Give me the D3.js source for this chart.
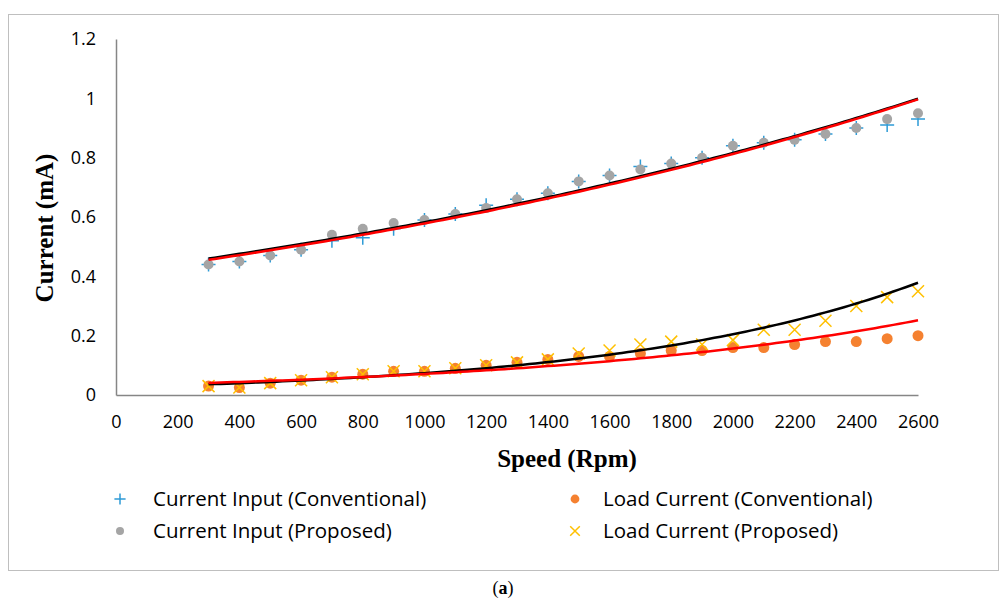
<!DOCTYPE html>
<html>
<head>
<meta charset="utf-8">
<script src="https://cdn.jsdelivr.net/npm/d3@7"></script>
<style>
  body { margin: 0; background: #fff; }
</style>
</head>
<body>
<script>
const speed = [300, 400, 500, 600, 700, 800, 900, 1000, 1100, 1200, 1300, 1400,
               1500, 1600, 1700, 1800, 1900, 2000, 2100, 2200, 2300, 2400, 2500, 2600];
const inputConventional = [0.44, 0.45, 0.47, 0.49, 0.52, 0.53, 0.56, 0.59, 0.61, 0.64, 0.66, 0.68,
                           0.72, 0.74, 0.77, 0.78, 0.80, 0.84, 0.85, 0.86, 0.88, 0.90, 0.91, 0.93];
const inputProposed     = [0.44, 0.45, 0.47, 0.49, 0.54, 0.56, 0.58, 0.59, 0.61, 0.63, 0.66, 0.68,
                           0.72, 0.74, 0.76, 0.78, 0.80, 0.84, 0.85, 0.86, 0.88, 0.90, 0.93, 0.95];
const loadConventional  = [0.03, 0.025, 0.04, 0.05, 0.06, 0.07, 0.08, 0.08, 0.09, 0.10, 0.11, 0.12,
                           0.13, 0.13, 0.14, 0.15, 0.15, 0.16, 0.16, 0.17, 0.18, 0.18, 0.19, 0.20];
const loadProposed      = [0.03, 0.025, 0.04, 0.05, 0.06, 0.07, 0.08, 0.08, 0.09, 0.10, 0.11, 0.12,
                           0.14, 0.15, 0.17, 0.18, 0.17, 0.185, 0.22, 0.22, 0.25, 0.30, 0.33, 0.35];
const xTicks = [0, 200, 400, 600, 800, 1000, 1200, 1400, 1600, 1800, 2000, 2200, 2400, 2600];
const yTicks = [0, 0.2, 0.4, 0.6, 0.8, 1, 1.2];

const W = 1008, H = 601;
const margin = {top: 39, left: 116, right: 90, bottom: 206};
const sans = "'Open Sans', sans-serif";
const serif = "'Liberation Serif', serif";

const svg = d3.select("body").append("svg")
  .attr("width", W)
  .attr("height", H);

svg.append("rect").attr("width", W).attr("height", H).attr("fill", "#fff");

// outer frame of the figure
svg.append("rect")
  .attr("x", 8.5).attr("y", 14.5)
  .attr("width", 990).attr("height", 556)
  .attr("fill", "none")
  .attr("stroke", "#bfbfbf")
  .attr("stroke-width", 1);

const xScale = d3.scaleLinear().domain([0, 2600]).range([margin.left, W - margin.right]);
const yScale = d3.scaleLinear().domain([0, 1.2]).range([H - margin.bottom, margin.top]);

const xAxis = d3.axisBottom(xScale).tickValues(xTicks).tickSize(0).tickPadding(20)
  .tickFormat(d => String(d));
const yAxis = d3.axisLeft(yScale).tickValues(yTicks).tickSize(0).tickPadding(20)
  .tickFormat(d => String(+d.toFixed(1)));

const gx = svg.append("g")
  .attr("transform", `translate(0,${yScale(0)})`)
  .call(xAxis);
const gy = svg.append("g")
  .attr("transform", `translate(${xScale(0)},0)`)
  .call(yAxis);

[gx, gy].forEach(g => {
  g.attr("font-family", null).attr("font-size", null);
  g.select(".domain").attr("stroke", "#868686").attr("stroke-width", 1.5);
  g.selectAll("text").style("font-family", sans).style("font-size", "18px").attr("fill", "#000");
});

svg.append("text")
  .attr("x", 567).attr("y", 467)
  .attr("text-anchor", "middle")
  .style("font-family", serif)
  .style("font-weight", "bold")
  .style("font-size", "25px")
  .text("Speed (Rpm)");

svg.append("text")
  .attr("transform", "translate(53,228) rotate(-90)")
  .attr("text-anchor", "middle")
  .style("font-family", serif)
  .style("font-weight", "bold")
  .style("font-size", "25px")
  .text("Current (mA)");

// exponential least-squares trendline, like Excel's
function expFit(xs, ys) {
  const ly = ys.map(Math.log);
  const mx = d3.mean(xs), my = d3.mean(ly);
  const b = d3.sum(xs, (x, i) => (x - mx) * (ly[i] - my)) / d3.sum(xs, x => (x - mx) * (x - mx));
  const a = my - b * mx;
  return x => Math.exp(a + b * x);
}

const lineGen = d3.line()
  .x(d => xScale(d[0]))
  .y(d => yScale(d[1]));

const series = [
  {name: "Current Input (Conventional)", values: inputConventional, shape: "plus",  color: "#2e9bd6", trend: "#ff0000"},
  {name: "Current Input (Proposed)",     values: inputProposed,     shape: "dot",   color: "#a5a5a5", trend: "#000000", r: 5},
  {name: "Load Current (Conventional)",  values: loadConventional,  shape: "dot",   color: "#f58130", trend: "#ff0000", r: 5.5},
  {name: "Load Current (Proposed)",      values: loadProposed,      shape: "cross", color: "#ffc000", trend: "#000000"}
];

function drawMarker(g, s, cx, cy, scale) {
  const k = scale || 1;
  if (s.shape === "dot") {
    g.append("circle").attr("cx", cx).attr("cy", cy).attr("r", s.r * k).attr("fill", s.color);
  } else if (s.shape === "plus") {
    const a = 7 * k;
    g.append("path")
      .attr("d", `M${cx - a},${cy}H${cx + a}M${cx},${cy - a}V${cy + a}`)
      .attr("stroke", s.color).attr("stroke-width", 1.5).attr("fill", "none");
  } else {
    const a = 6 * k;
    g.append("path")
      .attr("d", `M${cx - a},${cy - a}L${cx + a},${cy + a}M${cx - a},${cy + a}L${cx + a},${cy - a}`)
      .attr("stroke", s.color).attr("stroke-width", 1.5).attr("fill", "none");
  }
}

const marks = svg.append("g");
series.forEach(s => {
  const g = marks.append("g");
  speed.forEach((x, i) => drawMarker(g, s, xScale(x), yScale(s.values[i])));
});

const trendX = d3.range(speed[0], speed[speed.length - 1] + 1, 20);
// draw proposed (black) first, then conventional (red) on top
[series[1], series[0], series[3], series[2]].forEach(s => {
  const f = expFit(speed, s.values);
  svg.append("path")
    .datum(trendX.map(x => [x, f(x)]))
    .attr("d", lineGen)
    .attr("fill", "none")
    .attr("stroke", s.trend)
    .attr("stroke-width", 2.5);
});

const legendPos = [[120, 499], [120, 531], [575, 499], [575, 531]];
const legend = svg.append("g");
series.forEach((s, i) => {
  const [lx, ly] = legendPos[i];
  drawMarker(legend, s, lx, ly, 0.8);
  legend.append("text")
    .attr("x", lx + (i < 2 ? 33 : 28)).attr("y", ly + 7)
    .style("font-family", sans)
    .style("font-size", "20.5px")
    .text(s.name);
});

const cap = svg.append("text")
  .attr("x", 503).attr("y", 594)
  .attr("text-anchor", "middle")
  .style("font-family", serif)
  .style("font-size", "18px");
cap.append("tspan").text("(");
cap.append("tspan").style("font-weight", "bold").text("a");
cap.append("tspan").text(")");
</script>
</body>
</html>
